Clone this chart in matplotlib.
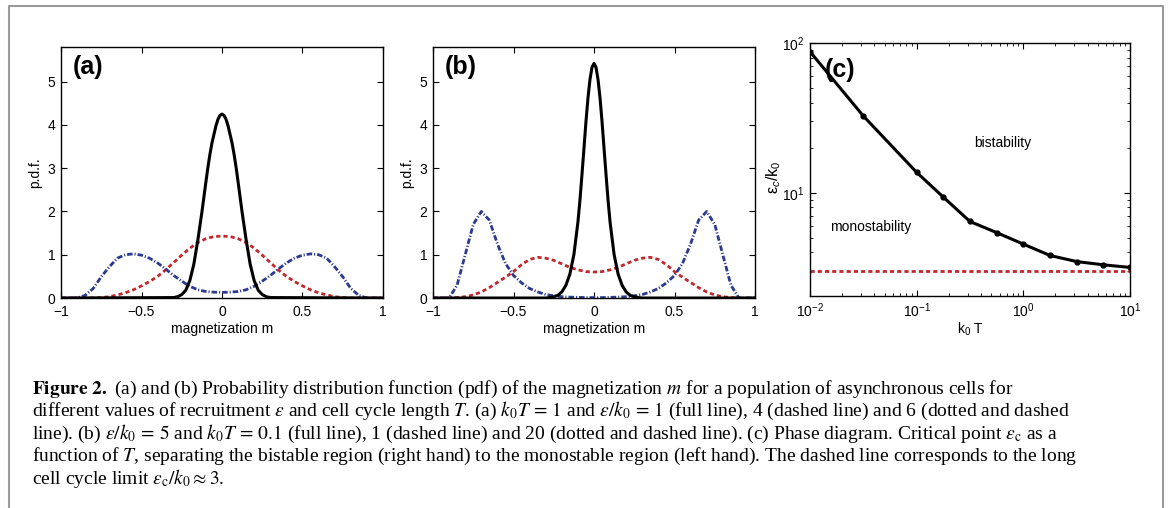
import numpy as np
import matplotlib
matplotlib.use('Agg')
import matplotlib.pyplot as plt
from matplotlib.lines import Line2D
from matplotlib.ticker import LogLocator, NullFormatter

plt.rcParams['font.family'] = ['Liberation Sans', 'DejaVu Sans']
plt.rcParams['mathtext.fontset'] = 'custom'
plt.rcParams['mathtext.rm'] = 'Liberation Sans'
plt.rcParams['mathtext.it'] = 'Liberation Sans:italic'
plt.rcParams['mathtext.bf'] = 'Liberation Sans:bold'

# magnetization grid (coarse for broad curves, finer for the narrow peaks)
m = np.linspace(-1, 1, 41)
m_peak = [-1.0, -0.3, -0.275, -0.25, -0.225, -0.2, -0.175, -0.15, -0.125, -0.1, -0.0875,
          -0.075, -0.0625, -0.05, -0.0375, -0.025, -0.0125, 0.0, 0.0125, 0.025, 0.0375,
          0.05, 0.0625, 0.075, 0.0875, 0.1, 0.125, 0.15, 0.175, 0.2, 0.225, 0.25, 0.275,
          0.3, 1.0]

# (a) k0 T = 1 ; eps/k0 = 1 (full), 4 (dashed), 6 (dot-dashed)
full_a = [0, 0.01, 0.03, 0.08, 0.18, 0.4, 0.78, 1.34, 1.98, 2.68, 3.02, 3.32, 3.58, 3.78,
          3.98, 4.13, 4.22, 4.25, 4.22, 4.13, 3.98, 3.78, 3.58, 3.32, 3.02, 2.68, 1.98, 1.34,
          0.78, 0.4, 0.18, 0.08, 0.03, 0.01, 0]
dash_a = [0, 0, 0, 0, 0, 0.01, 0.03, 0.07, 0.12, 0.19, 0.28, 0.38, 0.5, 0.65, 0.82, 0.99, 1.15,
          1.28, 1.37, 1.42, 1.43, 1.42, 1.37, 1.28, 1.15, 0.99, 0.82, 0.65, 0.5, 0.38, 0.28,
          0.19, 0.12, 0.07, 0.03, 0.01, 0, 0, 0, 0, 0]
dotdash_a = [0, 0, 0, 0.06, 0.22, 0.49, 0.72, 0.92, 1.0, 1.02, 0.99, 0.92, 0.81, 0.67, 0.52,
             0.39, 0.27, 0.19, 0.15, 0.135, 0.13, 0.135, 0.15, 0.19, 0.27, 0.39, 0.52, 0.67,
             0.81, 0.92, 0.99, 1.02, 1.0, 0.92, 0.72, 0.49, 0.22, 0.06, 0, 0, 0]

# (b) eps/k0 = 5 ; k0 T = 0.1 (full), 1 (dashed), 20 (dot-dashed)
full_b = [0, 0.0, 0.01, 0.03, 0.06, 0.14, 0.29, 0.55, 1.0, 1.75, 2.25, 2.84, 3.45, 4.07,
          4.62, 5.05, 5.33, 5.42, 5.33, 5.05, 4.62, 4.07, 3.45, 2.84, 2.25, 1.75, 1.0, 0.55,
          0.29, 0.14, 0.06, 0.03, 0.01, 0.0, 0]
dash_b = [0, 0, 0, 0.01, 0.03, 0.07, 0.14, 0.24, 0.36, 0.48, 0.61, 0.77, 0.89, 0.94, 0.92,
          0.87, 0.79, 0.71, 0.65, 0.61, 0.6, 0.61, 0.65, 0.71, 0.79, 0.87, 0.92, 0.94, 0.89,
          0.77, 0.61, 0.48, 0.36, 0.24, 0.14, 0.07, 0.03, 0.01, 0, 0, 0]
dotdash_b = [0, 0, 0, 0.3, 1.0, 1.7, 2.0, 1.8, 1.25, 0.8, 0.52, 0.35, 0.22, 0.14, 0.08, 0.05,
             0.03, 0.02, 0.015, 0.01, 0.01, 0.01, 0.015, 0.02, 0.03, 0.05, 0.08, 0.14, 0.22,
             0.35, 0.52, 0.8, 1.25, 1.8, 2.0, 1.7, 1.0, 0.3, 0, 0, 0]

# (c) phase diagram
k0T = [0.01, 0.0316, 0.1, 0.178, 0.316, 0.562, 1.0, 1.78, 3.16, 5.62, 10.0]
eps_c = [87.5, 32.6, 13.7, 9.36, 6.44, 5.43, 4.55, 3.82, 3.48, 3.31, 3.18]
eps_long = [3.0, 3.0]
k0T_long = [0.01, 10.0]

RED = '#c0282e'
BLUE = '#2b3a8f'
W, H = 1171, 508

fig = plt.figure(figsize=(W / 100, H / 100), dpi=100)

# grey frame around the figure
fig.add_artist(Line2D([9 / W, 9 / W, 1163 / W, 1163 / W], [0, 1 - 6 / H, 1 - 6 / H, 0],
                      color='#9a9a9a', lw=1.5, transform=fig.transFigure))


def pdf_panel(left, full, dash, dotdash, label):
    ax = fig.add_axes([left / W, 1 - 298 / H, 322 / W, 251 / H])
    ax.plot(m, dash, color=RED, lw=2.0, dashes=(1.5, 1.1))
    ax.plot(m, dotdash, color=BLUE, lw=2.0, dashes=(2.0, 0.7, 0.4, 0.7))
    ax.plot(m_peak, full, color='black', lw=2.2, solid_joinstyle='round')
    ax.set_xlim(-1, 1)
    ax.set_ylim(0, 5.8)
    ax.set_xticks([-1, -0.5, 0, 0.5, 1])
    ax.set_xticklabels(['\u22121', '\u22120.5', '0', '0.5', '1'])
    ax.set_yticks([0, 1, 2, 3, 4, 5])
    ax.tick_params(direction='in', top=True, right=True, length=4, labelsize=10)
    ax.tick_params(axis='x', pad=5)
    ax.tick_params(axis='y', pad=4)
    for s in ax.spines.values():
        s.set_linewidth(1.0)
    ax.set_xlabel('magnetization m', fontsize=10, labelpad=2)
    ax.set_ylabel('p.d.f.', fontsize=10, labelpad=4)
    ax.text(0.035, 0.92, label, transform=ax.transAxes, fontsize=18, fontweight='bold',
            va='center', ha='left')
    return ax


pdf_panel(61, full_a, dash_a, dotdash_a, '(a)')
pdf_panel(433, full_b, dash_b, dotdash_b, '(b)')

# panel (c)
axc = fig.add_axes([810 / W, 1 - 296 / H, 320 / W, 253 / H])
axc.plot(k0T_long, eps_long, color=RED, lw=2.0, dashes=(1.5, 1.1))
axc.plot(k0T, eps_c, color='black', lw=2.2, marker='o', markersize=3.5)
axc.set_xscale('log')
axc.set_yscale('log')
axc.set_xlim(0.01, 10)
axc.set_ylim(2.05, 100)
axc.yaxis.set_minor_locator(LogLocator(base=10, subs=np.arange(2, 10)))
axc.yaxis.set_minor_formatter(NullFormatter())
axc.set_yticks([10, 100])
axc.tick_params(which='both', direction='in', top=True, right=True, labelsize=10, pad=4)
axc.tick_params(which='major', length=4)
axc.tick_params(which='minor', length=2)
for s in axc.spines.values():
    s.set_linewidth(1.0)
axc.set_xlabel('k$_0$ T', fontsize=10, labelpad=0)
axc.set_ylabel('\u03b5$_c$/k$_0$', fontsize=11.5)
axc.yaxis.set_label_coords(-0.085, 0.47)
axc.text(0.047, 0.893, '(c)', transform=axc.transAxes, fontsize=18, fontweight='bold',
         va='center', ha='left')
axc.text(0.603, 0.605, 'bistability', transform=axc.transAxes, fontsize=10,
         ha='center', va='center')
axc.text(0.19, 0.273, 'monostability', transform=axc.transAxes, fontsize=10,
         ha='center', va='center')

# caption
caption = [
    r'$\mathbf{Figure\ 2.}$ (a) and (b) Probability distribution function (pdf) of the magnetization $m$ for a population of asynchronous cells for',
    r'different values of recruitment $\epsilon$ and cell cycle length $T$. (a) $k_0T\,=\,1$ and $\epsilon/k_0\,=\,1$ (full line), 4 (dashed line) and 6 (dotted and dashed',
    r'line). (b) $\epsilon/k_0\,=\,5$ and $k_0T\,=\,0.1$ (full line), 1 (dashed line) and 20 (dotted and dashed line). (c) Phase diagram. Critical point $\epsilon_{\rm c}$ as a',
    r'function of $T$, separating the bistable region (right hand) to the monostable region (left hand). The dashed line corresponds to the long',
    r'cell cycle limit $\epsilon_{\rm c}/k_0 \approx 3$.',
]
baselines = [393.5, 416, 438.5, 461, 483.5]
for line, yb in zip(caption, baselines):
    fig.text(32 / W, 1 - yb / H, line, fontsize=14, family=['Liberation Serif', 'DejaVu Serif'],
             math_fontfamily='stix', va='baseline', ha='left')

fig.savefig('out.png', dpi=100)
